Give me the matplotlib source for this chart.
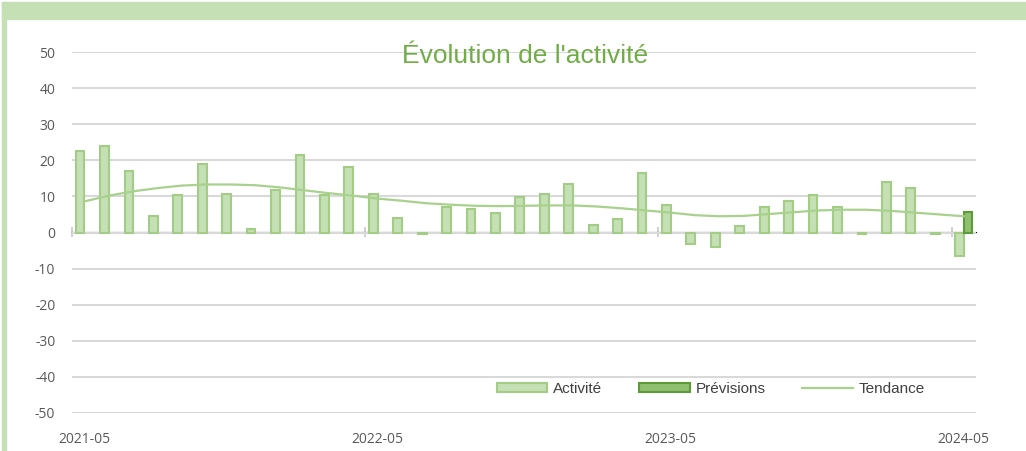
import matplotlib
matplotlib.use("Agg")
from matplotlib import pyplot as plt
from matplotlib.patches import Rectangle
import numpy as np

# monthly activity, 2021-05 .. 2024-05
activite = [22.6, 24.0, 17.1, 4.7, 10.3, 18.9, 10.6, 1.0, 11.9, 21.5,
            10.3, 18.1, 10.8, 3.9, -0.3, 7.0, 6.5, 5.4, 9.7, 10.8,
            13.3, 2.1, 3.7, 16.6, 7.5, -3.1, -3.9, 1.9, 7.1, 8.6,
            10.5, 7.1, -0.3, 14.1, 12.2, -0.3, -6.4]
previsions = [None] * 36 + [5.7]
tendance = [8.6, 10.2, 11.4, 12.3, 13.0, 13.3, 13.3, 13.1, 12.5, 11.7,
            10.9, 10.2, 9.4, 8.8, 8.1, 7.7, 7.4, 7.3, 7.4, 7.5,
            7.5, 7.2, 6.7, 6.1, 5.5, 4.8, 4.5, 4.6, 5.1, 5.6,
            6.1, 6.3, 6.3, 6.0, 5.5, 5.0, 4.5]
x_labels = ['2021-05', '2022-05', '2023-05', '2024-05']
x_label_pos = [0, 12, 24, 36]
y_ticks = list(range(-50, 51, 10))

GREEN_LIGHT = '#C5E0B4'
GREEN_EDGE = '#A3CC87'
GREEN_DARK = '#8FBF6F'
GREEN_DARK_EDGE = '#5E9A3A'
GRID = '#D9D9D9'
TXT = '#595959'

fig = plt.figure(figsize=(10.26, 4.51), dpi=100)
ax = fig.add_axes([72 / 1026, 38 / 451, 904 / 1026, 361 / 451])

# frame band around the chart
fig.patches.append(Rectangle((2 / 1026, 432 / 451), 1 - 2 / 1026, 17 / 451,
                             transform=fig.transFigure, color=GREEN_LIGHT, zorder=0))
fig.patches.append(Rectangle((2 / 1026, 0), 4 / 1026, 449 / 451,
                             transform=fig.transFigure, color=GREEN_LIGHT, zorder=0))

idx = np.arange(len(activite))
w = 0.36
b1 = ax.bar(idx - 0.17, activite, width=w, color=GREEN_LIGHT, edgecolor=GREEN_EDGE,
            linewidth=1.5, zorder=3, label='Activité')
prev_idx = [i for i, v in enumerate(previsions) if v is not None]
prev_val = [v for v in previsions if v is not None]
b2 = ax.bar(np.array(prev_idx) + 0.17, prev_val, width=w, color=GREEN_DARK,
            edgecolor=GREEN_DARK_EDGE, linewidth=1.5, zorder=3, label='Prévisions')
l1, = ax.plot(idx, tendance, color='#A9D18E', linewidth=1.6, zorder=4, label='Tendance')

ax.set_xlim(-0.5, len(activite) - 0.5)
ax.set_ylim(-50, 50)
ax.set_yticks(y_ticks)
ax.set_yticklabels([str(t) for t in y_ticks])
ax.set_xticks(x_label_pos)
ax.set_xticklabels(x_labels)
ax.tick_params(axis='both', length=0, colors=TXT, labelsize=10)
ax.tick_params(axis='y', pad=12)
ax.tick_params(axis='x', pad=14)
for lab in ax.get_xticklabels() + ax.get_yticklabels():
    lab.set_family(['Open Sans', 'DejaVu Sans'])
ax.grid(axis='y', color=GRID, linewidth=1.5, zorder=0)
ax.set_axisbelow(True)
for s in ax.spines.values():
    s.set_visible(False)

# horizontal axis line crossing at zero, ticks between categories
sec = ax.secondary_xaxis(0.5)
sec.set_xticks([-0.5, 11.5, 23.5, 35.5])
sec.set_xticklabels([])
sec.minorticks_off()
sec.tick_params(direction='inout', length=7, width=1.2, color='#C8C8C8')
sec.spines['bottom'].set_color(GRID)
sec.spines['bottom'].set_linewidth(1.5)

fig.text(525 / 1026, (451 - 63) / 451, "Évolution de l'activité", ha='center',
         va='baseline', fontsize=19, color='#70AD47', family='Liberation Sans')

leg = fig.legend(handles=[b1, b2, l1], loc='center',
                 bbox_to_anchor=(711 / 1026, (451 - 389) / 451), ncol=3,
                 frameon=False, handlelength=3.3, handleheight=0.5,
                 handletextpad=0.4, columnspacing=2.4,
                 prop={'family': 'Liberation Sans', 'size': 11})
for t in leg.get_texts():
    t.set_color('#404040')

fig.savefig('out.png', dpi=100)
